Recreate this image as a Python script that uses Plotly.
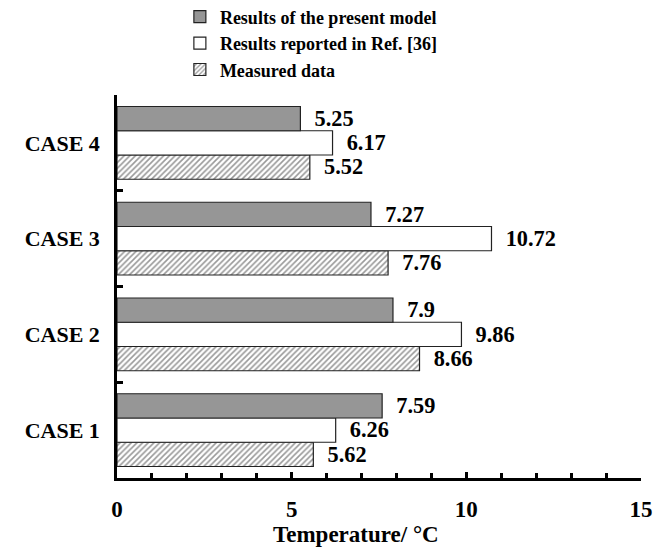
import plotly.graph_objects as go

cases = ["CASE 1", "CASE 2", "CASE 3", "CASE 4"]
present_model = [7.59, 7.9, 7.27, 5.25]
ref36 = [6.26, 9.86, 10.72, 6.17]
measured = [5.62, 8.66, 7.76, 5.52]

FONT = "Liberation Serif"
TXT = dict(family=FONT, size=23, color="black", weight="bold")
TPL = "\u2002%{x}"
fig = go.Figure()

fig.add_trace(go.Bar(
    y=cases, x=measured, orientation="h", name="Measured data",
    marker=dict(color="white", line=dict(color="#222", width=1.2),
                pattern=dict(shape="/", fgcolor="#333", bgcolor="white", size=4, solidity=0.4)),
    texttemplate=TPL, textposition="outside",
    textfont=TXT, cliponaxis=False,
))
fig.add_trace(go.Bar(
    y=cases, x=ref36, orientation="h", name="Results reported in Ref. [36]",
    marker=dict(color="white", line=dict(color="#222", width=1.2)),
    texttemplate=TPL, textposition="outside",
    textfont=TXT, cliponaxis=False,
))
fig.add_trace(go.Bar(
    y=cases, x=present_model, orientation="h", name="Results of the present model",
    marker=dict(color="#969696", line=dict(color="#222", width=1.2)),
    texttemplate=TPL, textposition="outside",
    textfont=TXT, cliponaxis=False,
))

fig.update_layout(
    width=657, height=549,
    margin=dict(l=117, r=16, t=95, b=71, autoexpand=False),
    paper_bgcolor="white", plot_bgcolor="white",
    barmode="group", bargap=0.24, bargroupgap=0,
    font=dict(family=FONT, color="black"),
    showlegend=True,
    legend=dict(
        traceorder="reversed",
        x=0.12, y=1.252, xanchor="left", yanchor="top",
        font=dict(family=FONT, size=18, color="black", weight="bold"),
        bgcolor="rgba(0,0,0,0)", itemwidth=30, tracegroupgap=0,
    ),
    uniformtext=dict(mode=False),
    annotations=[dict(
        text="Temperature/ °C", xref="paper", yref="paper", x=0.456, y=-0.148,
        xanchor="center", yanchor="middle", showarrow=False, font=TXT,
    )],
)

fig.update_xaxes(
    range=[0, 15], tickvals=[0, 5, 10, 15], showgrid=False, zeroline=False,
    showline=True, linecolor="black", linewidth=2.5, automargin=False,
    ticks="inside", ticklen=6, tickwidth=2.5, tickcolor="black",
    minor=dict(dtick=1, ticks="inside", ticklen=5, tickwidth=2.5, tickcolor="black"),
    tickfont=TXT,
    ticklabelstandoff=9,
)
fig.update_yaxes(
    showgrid=False, zeroline=False, showline=True, linecolor="black", linewidth=2.5,
    automargin=False,
    ticks="inside", tickson="boundaries", ticklen=6, tickwidth=2.5, tickcolor="black",
    tickfont=dict(family=FONT, size=22, color="black", weight="bold"),
    ticklabelstandoff=10,
)

fig.write_html("out.html")
